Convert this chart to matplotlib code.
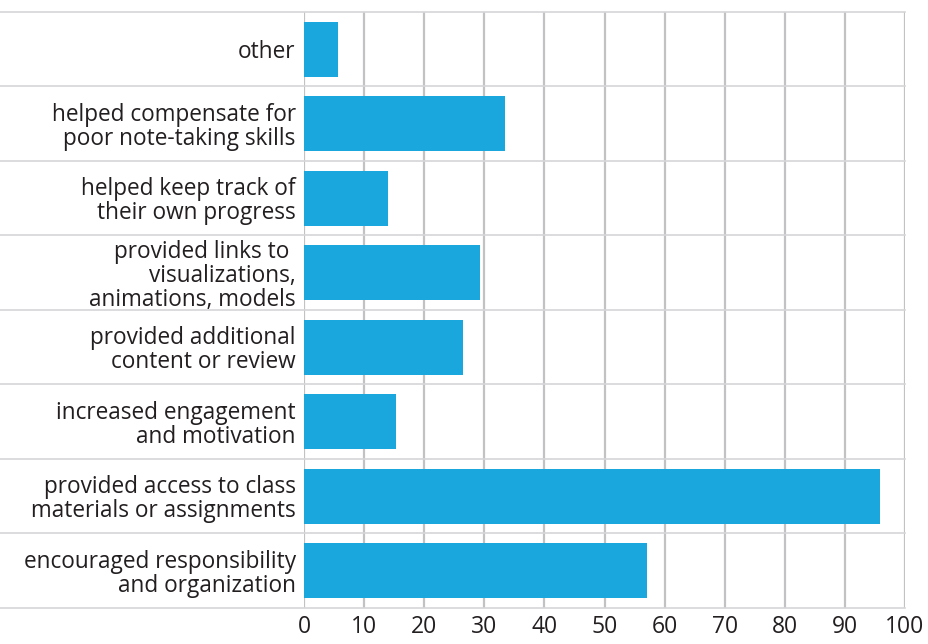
import matplotlib.pyplot as plt
import numpy as np

plt.rcParams['font.family'] = ['Open Sans', 'DejaVu Sans']

categories = [
    "other",
    "helped compensate for\npoor note-taking skills",
    "helped keep track of\ntheir own progress",
    "provided links to \nvisualizations,\nanimations, models",
    "provided additional\ncontent or review",
    "increased engagement\nand motivation",
    "provided access to class\nmaterials or assignments",
    "encouraged responsibility\nand organization",
]
values = [5.7, 33.4, 14.0, 29.3, 26.5, 15.3, 95.8, 57.0]
ticks = list(range(0, 101, 10))

fig = plt.figure(figsize=(9.29, 6.44), dpi=100)
ax = fig.add_axes([0.3272, 0.0559, 0.6470, 0.9255])

y = np.arange(len(categories))
ax.barh(y, values, height=0.74, color="#1aa7dd", zorder=3)

for t in ticks:
    ax.axvline(t, color="#c2c2c4", linewidth=1.6, zorder=1)

# row separators reach across the label column
for k in range(len(categories) + 1):
    ax.plot([-0.506, 1.0], [k - 0.5, k - 0.5], transform=ax.get_yaxis_transform(),
            color="#d6d6d8", linewidth=1.2, clip_on=False, zorder=2)

ax.set_xlim(0, 100)
ax.set_ylim(len(categories) - 0.5, -0.5)
ax.set_yticks(y)
ax.set_yticklabels(categories, fontsize=16.3, color="#231f20", linespacing=1.0)
ax.set_xticks(ticks)
ax.set_xticklabels([str(t) for t in ticks], fontsize=16.5, color="#231f20")
ax.tick_params(axis='y', length=0, pad=6)
ax.tick_params(axis='x', length=0, pad=5)
for s in ax.spines.values():
    s.set_visible(False)

fig.savefig("out.png", dpi=100)
